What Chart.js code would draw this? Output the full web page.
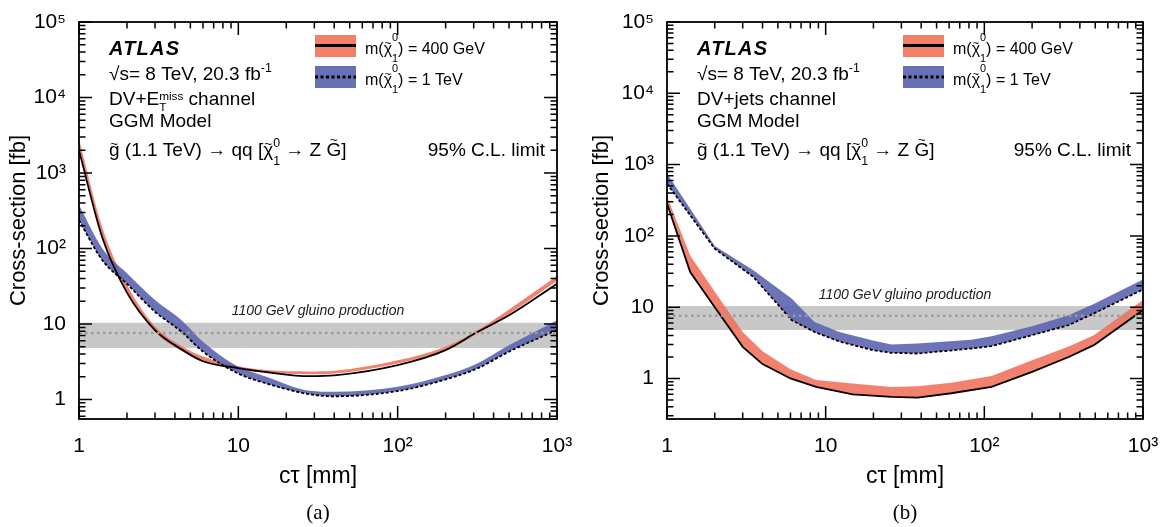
<!DOCTYPE html>
<html>
<head>
<meta charset="utf-8">
<title>Cross-section limits vs c&tau;</title>
<script src="https://cdn.jsdelivr.net/npm/chart.js@4.4.1/dist/chart.umd.min.js"></script>
<style>
  html, body { margin: 0; padding: 0; background: #fff; }
  #page { position: relative; width: 1167px; height: 527px; overflow: hidden; }
  canvas { position: absolute; top: 0; }
  #chart-a { left: 0; }
  #chart-b { left: 583px; }
  .caption { position: absolute; top: 500px; line-height: 24px; font-size: 21px;
             font-family: "Liberation Serif", "Times New Roman", serif; transform: translateX(-50%); }
</style>
</head>
<body>
<div id="page">
  <canvas id="chart-a" width="583" height="527"></canvas>
  <canvas id="chart-b" width="584" height="527"></canvas>
  <div class="caption" style="left:318px">(a)</div>
  <div class="caption" style="left:905px">(b)</div>
</div>
<script>
// ---- data (ctau in mm, cross-section in fb) ----

// 1100 GeV gluino production cross-section band
const gluinoCtau = [1, 1000];
const gluinoXsec = [7.6, 7.6];
const gluinoHi = [10.4, 10.4];
const gluinoLo = [4.8, 4.8];

// (a) DV+MET channel
const ctauA = [1, 1.4, 2, 3, 4.4, 6, 10, 15, 28, 40, 100, 200, 316, 500, 1000];
const red400HiA = [2800, 190, 33, 9.3, 5.1, 3.7, 2.75, 2.45, 2.35, 2.4, 3.3, 5.0, 8.2, 15.5, 43];
const red400LoA = [2200, 150, 27, 7.8, 4.4, 3.2, 2.45, 2.25, 2.15, 2.2, 3.0, 4.5, 7.4, 13.5, 37];
const red400LineA = [2000, 140, 26, 8.3, 4.6, 3.2, 2.6, 2.3, 2.03, 2.08, 2.85, 4.5, 7.8, 13, 34];
const blue1TeVHiA = [375, 100, 47, 20.7, 11.2, 5.8, 2.7, 2.0, 1.3, 1.26, 1.47, 2.1, 3.0, 5.2, 11.2];
const blue1TeVLoA = [237, 70, 34, 14.5, 7.9, 4.3, 2.2, 1.63, 1.17, 1.1, 1.29, 1.84, 2.57, 4.3, 8.3];

// (b) DV+jets channel
const ctauRedB = [1, 1.4, 2, 3, 4, 6, 8.7, 14.8, 26, 38, 62, 111, 200, 340, 490, 1000];
const red400HiB = [360, 53, 16.4, 4.5, 2.4, 1.35, 0.95, 0.85, 0.76, 0.78, 0.87, 1.08, 1.8, 2.8, 4.05, 12.6];
const red400LineB = [285, 31, 10, 2.78, 1.59, 1.0, 0.76, 0.6, 0.55, 0.54, 0.62, 0.76, 1.24, 2.0, 2.93, 9.1];
const ctauBlueB = [1, 2, 3.5, 6.1, 8.5, 12.2, 19.8, 26, 38, 83, 111, 200, 340, 486, 1000];
const blue1TeVHiB = [748, 72, 33, 13.2, 6.2, 4.5, 3.4, 3.0, 3.09, 3.5, 3.9, 5.4, 7.7, 11, 24.4];
const blue1TeVLoB = [540, 66, 26.6, 6.6, 4.5, 3.3, 2.5, 2.29, 2.24, 2.63, 2.84, 4.05, 5.6, 8.1, 17.7];

const FONT = '"Liberation Sans", Arial, Helvetica, sans-serif';
const RED = 'rgba(240,112,92,0.88)';
const BLUE = 'rgba(92,100,174,0.9)';
const GREY = '#c8c8c8';
const NONE = 'rgba(0,0,0,0)';

const SUP = { '0': '⁰', '1': '¹', '2': '²', '3': '³', '4': '⁴', '5': '⁵' };

function decadeLabel(v) {
    const e = Math.round(Math.log10(v));
    if (Math.abs(Math.log10(v) - e) > 1e-6) return '';
    if (e === 0) return '1';
    if (e === 1) return '10';
    return '10' + String(e).split('').map(c => SUP[c]).join('');
}

// integer mantissa (1..9) of a log tick, or null for the in-between ones
function mantissa(v) {
    const m = v / Math.pow(10, Math.floor(Math.log10(v) + 1e-9));
    const r = Math.round(m);
    return Math.abs(m - r) < 1e-6 && r >= 1 && r <= 9 ? r : null;
}

function pts(xs, ys) {
    return xs.map((x, i) => ({ x: x, y: ys[i] }));
}

// text with sub/superscripts and tildes, ROOT style
function drawRich(ctx, x, y, size, parts) {
    let pending = 0;
    parts.forEach(p => {
        const fs = size * (p.s || 1);
        ctx.font = fs + 'px ' + FONT;
        const w = ctx.measureText(p.t).width;
        ctx.fillText(p.t, x, y + (p.dy || 0));
        if (p.tilde) {
            ctx.save();
            ctx.font = (fs * 0.72) + 'px ' + FONT;
            ctx.textAlign = 'center';
            const lift = p.tilde === 'cap' ? 0.64 : 0.43;
            ctx.fillText('~', x + w / 2, y - fs * lift);
            ctx.restore();
        }
        if (p.stay) {
            pending = Math.max(pending, w);
        } else {
            x += Math.max(w, pending);
            pending = 0;
        }
    });
}

function chiParts(mass) {
    return [
        { t: 'm(' }, { t: 'χ', tilde: 'low' },
        { t: '0', s: 0.68, dy: -13, stay: true }, { t: '1', s: 0.68, dy: 8 },
        { t: ') = ' + mass }
    ];
}

// frame with inward ticks on all four sides, labels and legend
function overlay(channel) {
    return {
        id: 'atlasOverlay',
        afterDatasetsDraw(chart) {
            const { ctx, chartArea: a, scales: { x, y } } = chart;
            ctx.save();
            ctx.strokeStyle = '#000';
            ctx.lineWidth = 1.5;
            ctx.beginPath();
            x.ticks.forEach(t => {
                const m = mantissa(t.value);
                if (m === null) return;
                const px = x.getPixelForValue(t.value);
                const len = m === 1 ? 13 : 6.5;
                ctx.moveTo(px, a.bottom); ctx.lineTo(px, a.bottom - len);
                ctx.moveTo(px, a.top); ctx.lineTo(px, a.top + len);
            });
            y.ticks.forEach(t => {
                const m = mantissa(t.value);
                if (m === null) return;
                const py = y.getPixelForValue(t.value);
                const len = m === 1 ? 13 : 6.5;
                ctx.moveTo(a.left, py); ctx.lineTo(a.left + len, py);
                ctx.moveTo(a.right, py); ctx.lineTo(a.right - len, py);
            });
            ctx.stroke();
            ctx.lineWidth = 1.8;
            ctx.strokeRect(a.left, a.top, a.right - a.left, a.bottom - a.top);

            // ATLAS label block
            ctx.fillStyle = '#000';
            ctx.textBaseline = 'alphabetic';
            const L = a.left + 30;
            ctx.font = 'italic bold 20px ' + FONT;
            ctx.letterSpacing = '1.2px';
            ctx.fillText('ATLAS', L, 55);
            ctx.letterSpacing = '0px';
            drawRich(ctx, L, 80, 19, [{ t: '√s= 8 TeV, 20.3 fb' }, { t: '-1', s: 0.65, dy: -8 }]);
            drawRich(ctx, L, 105, 19, channel);
            drawRich(ctx, L, 127, 19, [{ t: 'GGM Model' }]);
            drawRich(ctx, L, 156, 19, [
                { t: 'g', tilde: 'low' }, { t: ' (1.1 TeV) → qq [' },
                { t: 'χ', tilde: 'low' }, { t: '0', s: 0.65, dy: -9, stay: true }, { t: '1', s: 0.65, dy: 9 },
                { t: ' → Z ' }, { t: 'G', tilde: 'cap' }, { t: ']' }
            ]);
            ctx.font = '19px ' + FONT;
            ctx.textAlign = 'right';
            ctx.fillText('95% C.L. limit', a.right - 12, 156);
            ctx.textAlign = 'left';

            // legend
            const bx = a.left + 236;
            ctx.fillStyle = '#f28069';
            ctx.fillRect(bx, 35, 41, 22);
            ctx.fillStyle = '#6870b4';
            ctx.fillRect(bx, 66, 41, 22);
            ctx.strokeStyle = '#000';
            ctx.lineWidth = 3;
            ctx.beginPath(); ctx.moveTo(bx, 45.5); ctx.lineTo(bx + 41, 45.5); ctx.stroke();
            ctx.setLineDash([3, 2.5]);
            ctx.beginPath(); ctx.moveTo(bx, 77); ctx.lineTo(bx + 41, 77); ctx.stroke();
            ctx.setLineDash([]);
            ctx.fillStyle = '#000';
            drawRich(ctx, a.left + 286, 54, 16, chiParts('400 GeV'));
            drawRich(ctx, a.left + 286, 85, 16, chiParts('1 TeV'));

            // gluino band label, just above the band
            ctx.font = 'italic 14px ' + FONT;
            ctx.textAlign = 'center';
            ctx.fillStyle = '#222';
            ctx.fillText('1100 GeV gluino production', (a.left + a.right) / 2, y.getPixelForValue(13));
            ctx.restore();
        }
    };
}

function panelDatasets(p) {
    const curve = p.smooth ? { cubicInterpolationMode: 'monotone' } : { tension: 0 };
    return [
        { data: pts(gluinoCtau, gluinoXsec), borderColor: '#9a9a9a', borderWidth: 2.5, borderDash: [2.5, 3.5], order: 0 },
        Object.assign({ data: pts(p.xRed, p.redLine), borderColor: '#000', borderWidth: 1.8, order: 1 }, curve),
        Object.assign({ data: pts(p.xBlue, p.blueLo), borderColor: '#000', borderWidth: 1.8, borderDash: [3, 2], order: 1 }, curve),
        Object.assign({ data: pts(p.xBlue, p.blueHi), borderColor: NONE, borderWidth: 0, backgroundColor: BLUE, fill: 4, order: 2 }, curve),
        Object.assign({ data: pts(p.xBlue, p.blueLo), borderColor: NONE, borderWidth: 0, order: 2 }, curve),
        Object.assign({ data: pts(p.xRed, p.redHi), borderColor: NONE, borderWidth: 0, backgroundColor: RED, fill: 6, order: 3 }, curve),
        Object.assign({ data: pts(p.xRed, p.redLo), borderColor: NONE, borderWidth: 0, order: 3 }, curve),
        { data: pts(gluinoCtau, gluinoHi), borderColor: NONE, borderWidth: 0, backgroundColor: GREY, fill: 8, order: 4 },
        { data: pts(gluinoCtau, gluinoLo), borderColor: NONE, borderWidth: 0, order: 4 }
    ];
}

function makeChart(id, p) {
    return new Chart(document.getElementById(id), {
        type: 'line',
        data: { datasets: panelDatasets(p) },
        options: {
            responsive: false,
            animation: false,
            layout: { padding: { left: 0, top: 22, right: p.padRight, bottom: 0 } },
            elements: { point: { radius: 0 } },
            plugins: { legend: { display: false }, tooltip: { enabled: false } },
            scales: {
                x: {
                    type: 'logarithmic', min: 1, max: 1000,
                    grid: { display: false }, border: { display: false },
                    ticks: { autoSkip: false, maxRotation: 0, padding: 7, color: '#000',
                             font: { family: FONT, size: 21 }, callback: v => decadeLabel(v) },
                    title: { display: true, text: 'cτ [mm]', color: '#000',
                             font: { family: FONT, size: 23 }, padding: { top: 0, bottom: 37 } },
                    afterFit: s => { s.height = 108; }
                },
                y: {
                    type: 'logarithmic', min: p.yMin, max: 1e5,
                    grid: { display: false }, border: { display: false },
                    ticks: { autoSkip: false, padding: 5, color: '#000',
                             font: { family: FONT, size: 21 }, callback: v => decadeLabel(v) },
                    title: { display: true, text: 'Cross-section [fb]', color: '#000',
                             font: { family: FONT, size: 22 }, padding: { top: 6, bottom: 0 } },
                    afterFit: s => { s.width = p.yWidth; }
                }
            }
        },
        plugins: [overlay(p.channel)]
    });
}

makeChart('chart-a', {
    xRed: ctauA, redHi: red400HiA, redLo: red400LoA, redLine: red400LineA,
    xBlue: ctauA, blueHi: blue1TeVHiA, blueLo: blue1TeVLoA,
    smooth: true, yMin: 0.55, yWidth: 79, padRight: 26,
    channel: [{ t: 'DV+E' }, { t: 'miss', s: 0.62, dy: -5, stay: true }, { t: 'T', s: 0.62, dy: 6 }, { t: ' channel' }]
});

makeChart('chart-b', {
    xRed: ctauRedB, redHi: red400HiB, redLo: red400LineB, redLine: red400LineB,
    xBlue: ctauBlueB, blueHi: blue1TeVHiB, blueLo: blue1TeVLoB,
    smooth: false, yMin: 0.27, yWidth: 84, padRight: 24,
    channel: [{ t: 'DV+jets channel' }]
});
</script>
</body>
</html>
